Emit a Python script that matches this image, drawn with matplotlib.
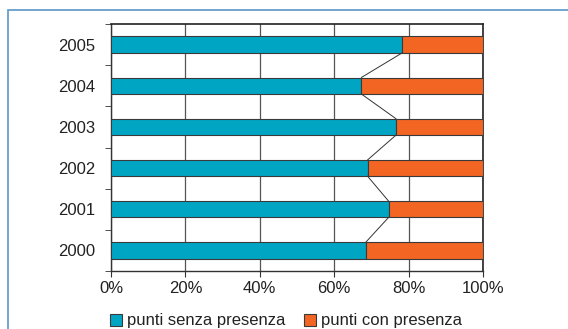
import matplotlib
matplotlib.use("Agg")
import matplotlib.pyplot as plt
from matplotlib.patches import Rectangle
import numpy as np

plt.rcParams['font.family'] = ['Liberation Sans', 'DejaVu Sans']

years = ["2000", "2001", "2002", "2003", "2004", "2005"]
senza = [68.5, 74.6, 69.0, 76.6, 67.3, 78.3]
con = [100 - v for v in senza]
x_ticks = [0, 20, 40, 60, 80, 100]
x_labels = ["0%", "20%", "40%", "60%", "80%", "100%"]
legend_labels = ["punti senza presenza", "punti con presenza"]

c_blue = "#00A5C4"
c_orange = "#F26522"
edge = "#3a3a3a"

fig = plt.figure(figsize=(5.68, 3.29), dpi=100)
fig.patch.set_facecolor("white")

# outer frame
fig.add_artist(Rectangle((8 / 568, -0.1), 1.2, 1 - 10 / 329 + 0.1,
                         transform=fig.transFigure, fill=False,
                         edgecolor="#5A96C8", linewidth=1.2))

ax = fig.add_axes([111 / 568, 1 - 271 / 329, 372 / 568, 247 / 329])
y = np.arange(len(years))
h = 0.4

ax.barh(y, senza, height=h, color=c_blue, edgecolor=edge, linewidth=0.8,
        label=legend_labels[0], zorder=3)
ax.barh(y, con, left=senza, height=h, color=c_orange, edgecolor=edge,
        linewidth=0.8, label=legend_labels[1], zorder=3)

# series lines joining the segment boundaries of neighbouring bars
for i in range(len(years) - 1):
    ax.plot([senza[i], senza[i + 1]], [y[i] + h / 2, y[i + 1] - h / 2],
            color="#333333", linewidth=0.7, zorder=4)

ax.set_xlim(0, 100)
ax.set_ylim(-0.5, len(years) - 0.5)
ax.set_xticks(x_ticks)
ax.set_xticklabels(x_labels, fontsize=12, color="#222222")
ax.set_yticks(y)
ax.set_yticklabels(years, fontsize=12, color="#222222")
ax.tick_params(axis="y", which="major", length=0, pad=11)
ax.set_yticks(np.arange(-0.5, len(years), 1.0), minor=True)
ax.tick_params(axis="y", which="minor", length=4, direction="out", color="#333333")
ax.tick_params(axis="x", length=4, direction="out", color="#333333", pad=3)

ax.xaxis.grid(True, color="#555555", linewidth=0.9, zorder=0)
ax.set_axisbelow(True)
for s in ["top", "right"]:
    ax.spines[s].set_color("#222222")
    ax.spines[s].set_linewidth(1.2)
for s in ["left", "bottom"]:
    ax.spines[s].set_color("#333333")
    ax.spines[s].set_linewidth(1.0)

handles = [Rectangle((0, 0), 1, 1, facecolor=c_blue, edgecolor=edge, linewidth=0.8),
           Rectangle((0, 0), 1, 1, facecolor=c_orange, edgecolor=edge, linewidth=0.8)]
fig.legend(handles, legend_labels, loc="center", bbox_to_anchor=(286 / 568, 1 - 321 / 329),
           ncol=2, frameon=False, fontsize=12, handlelength=0.75, handleheight=0.75,
           handletextpad=0.3, columnspacing=1.1, labelcolor="#222222")

fig.savefig("out.png", dpi=100)
